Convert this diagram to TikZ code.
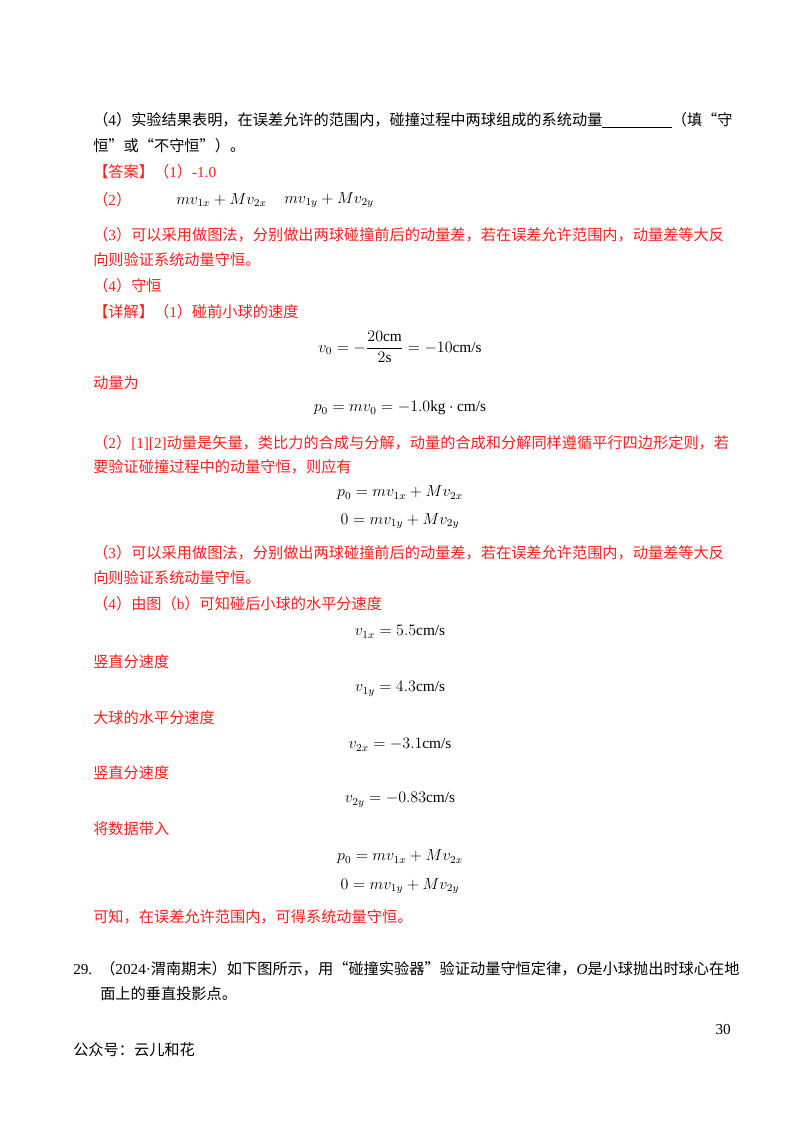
\documentclass[tikz,border=0pt]{standalone}
\usepackage{amsmath}
\usepackage{fontspec}
\setmainfont{Noto Sans CJK SC}
\newfontfamily\lat{Liberation Serif}
\newcommand\un[1]{\text{\lat #1}}
\definecolor{ans}{rgb}{1,0.12,0.12}
\begin{document}
\begin{tikzpicture}[x=0.75pt,y=-0.75pt,
  txt/.style={anchor=west,inner sep=0pt,font=\fontsize{11.4}{14}\selectfont},
  red/.style={txt,text=ans},
  eq/.style={inner sep=0pt,font=\fontsize{11.5}{14}\selectfont}]
\useasboundingbox (0,0) rectangle (800,1132);
\fill[white] (0,0) rectangle (800,1132);
\node[txt] (l1) at (93,120) {（{\lat 4}）实验结果表明，在误差允许的范围内，碰撞过程中两球组成的系统动量\rule[-2pt]{52pt}{0.6pt}（填“守};
\node[txt] (l2) at (93,146) {恒”或“不守恒”）。};
\node[red] (a1) at (93,172) {【答案】（{\lat 1}）{\lat -1.0}};
\node[red] (a2) at (93,200) {（{\lat 2}）};
\node[eq,anchor=west] (a2m1) at (176,200) {$mv_{1x}+Mv_{2x}$};
\node[eq,anchor=west] (a2m2) at (284,200) {$mv_{1y}+Mv_{2y}$};
\node[red] (a3) at (93,235) {（{\lat 3}）可以采用做图法，分别做出两球碰撞前后的动量差，若在误差允许范围内，动量差等大反};
\node[red] (a3b) at (93,260) {向则验证系统动量守恒。};
\node[red] (a4) at (93,286) {（{\lat 4}）守恒};
\node[red] (d1) at (93,312) {【详解】（{\lat 1}）碰前小球的速度};
\node[eq] (e1) at (400,347) {$v_0=-\dfrac{20\un{cm}}{2\un{s}}=-10\un{cm/s}$};
\node[red] (d2) at (93,383) {动量为};
\node[eq] (e2) at (400,408) {$p_0=mv_0=-1.0\un{kg}\cdot\un{cm/s}$};
\node[red] (d3) at (93,443) {（{\lat 2}）{\lat [1][2]}动量是矢量，类比力的合成与分解，动量的合成和分解同样遵循平行四边形定则，若};
\node[red] (d3b) at (93,467) {要验证碰撞过程中的动量守恒，则应有};
\node[eq] (e3) at (400,493) {$p_0=mv_{1x}+Mv_{2x}$};
\node[eq] (e4) at (400,521) {$0=mv_{1y}+Mv_{2y}$};
\node[red] (d4) at (93,553) {（{\lat 3}）可以采用做图法，分别做出两球碰撞前后的动量差，若在误差允许范围内，动量差等大反};
\node[red] (d4b) at (93,578) {向则验证系统动量守恒。};
\node[red] (d5) at (93,604) {（{\lat 4}）由图（{\lat b}）可知碰后小球的水平分速度};
\node[eq] (e5) at (400,632) {$v_{1x}=5.5\un{cm/s}$};
\node[red] (d6) at (93,662) {竖直分速度};
\node[eq] (e6) at (400,689) {$v_{1y}=4.3\un{cm/s}$};
\node[red] (d7) at (93,718) {大球的水平分速度};
\node[eq] (e7) at (400,745) {$v_{2x}=-3.1\un{cm/s}$};
\node[red] (d8) at (93,773) {竖直分速度};
\node[eq] (e8) at (400,800) {$v_{2y}=-0.83\un{cm/s}$};
\node[red] (d9) at (93,829) {将数据带入};
\node[eq] (e9) at (400,857) {$p_0=mv_{1x}+Mv_{2x}$};
\node[eq] (e10) at (400,886) {$0=mv_{1y}+Mv_{2y}$};
\node[red] (d10) at (93,917) {可知，在误差允许范围内，可得系统动量守恒。};
\node[txt] (q1) at (73,969) {{\lat 29.}\hspace{6pt}（{\lat 2024·}渭南期末）如下图所示，用“碰撞实验器”验证动量守恒定律，{\lat\itshape O}是小球抛出时球心在地};
\node[txt] (q2) at (100,994) {面上的垂直投影点。};
\node[txt,anchor=east] (pg) at (731,1030) {\lat 30};
\node[txt] (ft) at (73,1050) {公众号：云儿和花};
\end{tikzpicture}
\end{document}
